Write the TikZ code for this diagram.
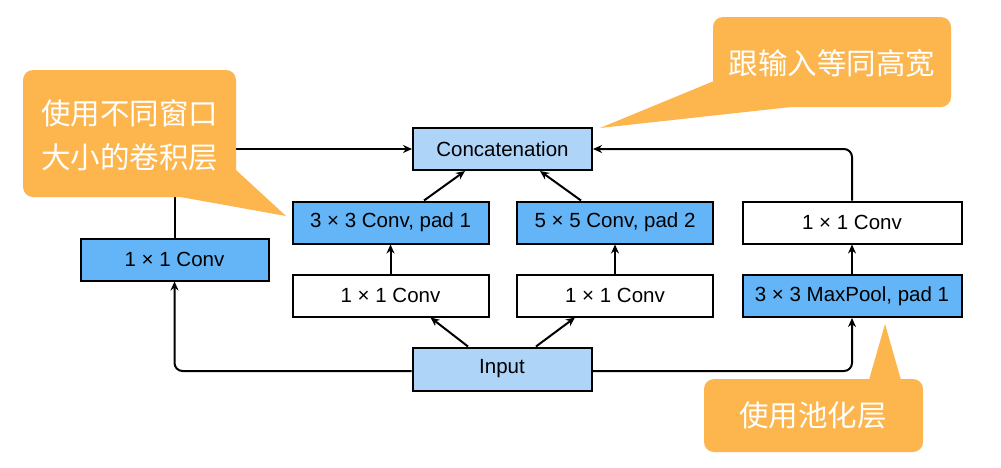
\documentclass[tikz,border=0pt]{standalone}
\usepackage{fontspec}
\setmainfont{Liberation Sans}
\newfontfamily\cjk{Noto Sans CJK SC}
\usetikzlibrary{arrows.meta}
\definecolor{lightblue}{HTML}{AED4F8}
\definecolor{darkblue}{HTML}{64B5F7}
\definecolor{callout}{HTML}{FDB64E}
\begin{document}
\begin{tikzpicture}[x=1pt,y=-1pt,
  box/.style={draw=black,line width=2pt,inner sep=0pt,minimum height=42pt,font=\fontsize{20.5}{24}\selectfont},
  arr/.style={line width=2pt,-{Stealth[length=9pt,width=8pt]}},
  note/.style={text=white,font=\cjk\fontsize{29.5}{44}\selectfont,align=center,inner sep=0pt}]
\fill[white] (0,0) rectangle (1001,467);
\useasboundingbox (0,0) rectangle (1001,467);
% boxes
\node[box,fill=lightblue,minimum width=179pt] (concat) at (502.5,149) {Concatenation};
\node[box,fill=darkblue,minimum width=196pt] (c33) at (390.5,222.5) {3 × 3 Conv, pad 1};
\node[box,fill=darkblue,minimum width=196pt] (c55) at (615,222.5) {5 × 5 Conv, pad 2};
\node[box,fill=white,minimum width=196pt] (m1) at (390.5,295.5) {1 × 1 Conv};
\node[box,fill=white,minimum width=196pt] (m2) at (615,295.5) {1 × 1 Conv};
\node[box,fill=darkblue,minimum width=188pt] (left) at (174.5,259.5) {1 × 1 Conv};
\node[box,fill=lightblue,minimum width=179pt,minimum height=43pt] (input) at (502,369) {Input};
\node[box,fill=white,minimum width=219pt] (r1) at (852,222.5) {1 × 1 Conv};
\node[box,fill=darkblue,minimum width=219pt] (pool) at (852,296) {3 × 3 MaxPool, pad 1};
% connectors
\draw[arr,rounded corners=8pt] ([yshift=-2pt]input.west) -| (left.south);
\draw[arr,rounded corners=8pt] ([yshift=-2pt]input.east) -| (pool.south);
\draw[arr] (left.north) |- (concat.west);
\draw[arr,rounded corners=8pt] (r1.north) |- (concat.east);
\draw[arr] ([xshift=-34pt]input.north) -- ([xshift=40pt]m1.south);
\draw[arr] ([xshift=34pt]input.north) -- ([xshift=-40pt]m2.south);
\draw[arr] (m1.north) -- (c33.south);
\draw[arr] (m2.north) -- (c55.south);
\draw[arr] (pool.north) -- (r1.south);
\draw[arr] ([xshift=33.5pt]c33.north) -- ([xshift=-37.5pt]concat.south);
\draw[arr] ([xshift=-34pt]c55.north) -- ([xshift=37.5pt]concat.south);
% callouts
\fill[callout,rounded corners=10pt] (23,70) rectangle (236,197);
\fill[callout] (236,170) -- (286,216) -- (175,196) -- (175,170) -- cycle;
\node[note] (n1) at (129.5,135) {使用不同窗口\\大小的卷积层};
\fill[callout,rounded corners=10pt] (713,17) rectangle (951,107);
\fill[callout] (714,81) -- (600,128) -- (800,106) -- (800,81) -- cycle;
\node[note] (n2) at (832,63) {跟输入等同高宽};
\fill[callout,rounded corners=10pt] (704,379) rectangle (923,452);
\fill[callout] (869,380) -- (885,324) -- (901,380) -- cycle;
\node[note] (n3) at (813,415) {使用池化层};
\end{tikzpicture}
\end{document}
